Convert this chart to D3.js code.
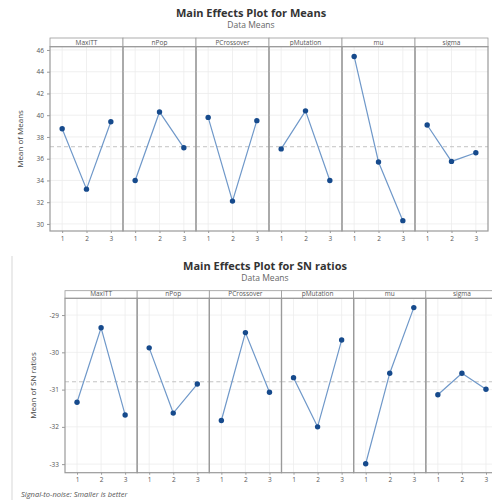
<!DOCTYPE html>
<meta charset="utf-8">
<script src="https://d3js.org/d3.v7.min.js"></script>
<style>
  body { margin: 0; background: #fff; }
  text { font-family: "Open Sans", "Noto Sans", sans-serif; }
</style>
<div id="chart"></div>
<script>
// factors and levels
var factors = ["MaxITT", "nPop", "PCrossover", "pMutation", "mu", "sigma"];
var levels = [1, 2, 3];

// means of means, one array per factor (levels 1,2,3)
var meansMaxITT = [38.75, 33.2, 39.4];
var meansNPop = [34.0, 40.3, 37.0];
var meansPCrossover = [39.8, 32.1, 39.5];
var meansPMutation = [36.9, 40.4, 34.0];
var meansMu = [45.4, 35.7, 30.3];
var meansSigma = [39.1, 35.75, 36.55];
var meansTicks = [30, 32, 34, 36, 38, 40, 42, 44, 46];

// mean of SN ratios
var snMaxITT = [-31.34, -29.34, -31.68];
var snNPop = [-29.88, -31.63, -30.85];
var snPCrossover = [-31.83, -29.47, -31.07];
var snPMutation = [-30.68, -32.0, -29.67];
var snMu = [-32.99, -30.56, -28.8];
var snSigma = [-31.14, -30.56, -30.99];
var snTicks = [-33, -32, -31, -30, -29];

var W = 492, H = 500;
var svg = d3.select("#chart").append("svg")
    .attr("width", W)
    .attr("height", H);

// faint frame of the lower screenshot
svg.append("line")
    .attr("x1", 12).attr("x2", 12).attr("y1", 256).attr("y2", H)
    .attr("stroke", "#e4e4e4").attr("stroke-width", 1.5);

var lineColor = "#6f98c9", dotColor = "#164a8c";
var fmt = function(d) { return String(d); };

function drawPanelChart(opt) {
  var g = svg.append("g");

  // titles
  g.append("text")
    .attr("x", opt.titleX).attr("y", opt.titleY)
    .attr("text-anchor", "middle")
    .style("font-size", "11px").style("font-weight", "bold").style("fill", "#333")
    .text(opt.title);
  g.append("text")
    .attr("x", opt.titleX).attr("y", opt.titleY + 11)
    .attr("text-anchor", "middle")
    .style("font-size", "8.5px").style("fill", "#666")
    .text("Data Means");

  var y = d3.scaleLinear().domain(opt.domain).range([opt.bottom, opt.stripBottom]);
  var pw = (opt.right - opt.left) / factors.length;

  // y axis
  var yAxis = g.append("g")
    .attr("transform", "translate(" + opt.left + ",0)")
    .call(d3.axisLeft(y).tickValues(opt.ticks).tickSize(3).tickFormat(fmt));
  yAxis.select(".domain").remove();
  yAxis.selectAll(".tick line").attr("stroke", "#999");
  yAxis.selectAll(".tick text")
    .style("font-size", "6.5px").style("fill", "#555")
    .attr("font-family", "Open Sans, sans-serif");

  g.append("text")
    .attr("transform", "translate(" + opt.labelX + "," + ((opt.stripBottom + opt.bottom) / 2) + ")rotate(-90)")
    .attr("text-anchor", "middle")
    .style("font-size", "8px").style("fill", "#444")
    .text(opt.ylabel);

  factors.forEach(function(f, i) {
    var x0 = opt.left + i * pw;
    var x = d3.scaleLinear().domain([0.5, 3.5]).range([x0, x0 + pw]);
    var p = g.append("g");

    // grid
    p.selectAll(".hg").data(opt.ticks).enter().append("line")
      .attr("x1", x0).attr("x2", x0 + pw)
      .attr("y1", function(d) { return y(d); }).attr("y2", function(d) { return y(d); })
      .attr("stroke", "#ececec").attr("stroke-width", 0.8);
    p.selectAll(".vg").data(levels).enter().append("line")
      .attr("x1", function(d) { return x(d); }).attr("x2", function(d) { return x(d); })
      .attr("y1", opt.stripBottom).attr("y2", opt.bottom)
      .attr("stroke", "#ececec").attr("stroke-width", 0.8);

    // reference line (grand mean)
    p.append("line")
      .attr("x1", x0).attr("x2", x0 + pw)
      .attr("y1", y(opt.grand)).attr("y2", y(opt.grand))
      .attr("stroke", "#bbb").attr("stroke-width", 0.9)
      .attr("stroke-dasharray", "4,3");

    // x ticks
    var xAxis = p.append("g")
      .attr("transform", "translate(0," + opt.bottom + ")")
      .call(d3.axisBottom(x).tickValues(levels).tickSize(2).tickFormat(fmt));
    xAxis.select(".domain").remove();
    xAxis.selectAll(".tick line").attr("stroke", "#999");
    xAxis.selectAll(".tick text")
      .style("font-size", "6.5px").style("fill", "#555")
      .attr("font-family", "Open Sans, sans-serif");

    // strip
    p.append("rect")
      .attr("x", x0).attr("y", opt.top)
      .attr("width", pw).attr("height", opt.stripBottom - opt.top)
      .attr("fill", "#fff").attr("stroke", "#999").attr("stroke-width", 0.8);
    p.append("text")
      .attr("x", x0 + pw / 2).attr("y", opt.stripBottom - 2)
      .attr("text-anchor", "middle")
      .style("font-size", "6.5px").style("fill", "#555")
      .text(f);

    // panel border
    p.append("rect")
      .attr("x", x0).attr("y", opt.stripBottom)
      .attr("width", pw).attr("height", opt.bottom - opt.stripBottom)
      .attr("fill", "none").attr("stroke", "#9a9a9a").attr("stroke-width", 1.2);

    var vals = opt.series[i];
    var pts = levels.map(function(l, k) { return [l, vals[k]]; });
    p.append("path")
      .datum(pts)
      .attr("fill", "none").attr("stroke", lineColor).attr("stroke-width", 1.2)
      .attr("d", d3.line().x(function(d) { return x(d[0]); }).y(function(d) { return y(d[1]); }));
    p.selectAll("circle").data(pts).enter().append("circle")
      .attr("cx", function(d) { return x(d[0]); })
      .attr("cy", function(d) { return y(d[1]); })
      .attr("r", 2.7)
      .attr("fill", dotColor);
  });
}

drawPanelChart({
  title: "Main Effects Plot for Means", titleX: 251, titleY: 17,
  left: 50, right: 488, top: 38, stripBottom: 46.7, bottom: 231,
  domain: [29.35, 46.3], ticks: meansTicks, grand: 37.1,
  labelX: 23, ylabel: "Mean of Means",
  series: [meansMaxITT, meansNPop, meansPCrossover, meansPMutation, meansMu, meansSigma]
});

drawPanelChart({
  title: "Main Effects Plot for SN ratios", titleX: 265, titleY: 270,
  left: 65, right: 498, top: 290.7, stripBottom: 298.3, bottom: 472.7,
  domain: [-33.23, -28.55], ticks: snTicks, grand: -30.79,
  labelX: 36, ylabel: "Mean of SN ratios",
  series: [snMaxITT, snNPop, snPCrossover, snPMutation, snMu, snSigma]
});

svg.append("text")
  .attr("x", 21).attr("y", 497)
  .style("font-size", "7.5px").style("font-style", "italic").style("fill", "#555")
  .text("Signal-to-noise: Smaller is better");
</script>
